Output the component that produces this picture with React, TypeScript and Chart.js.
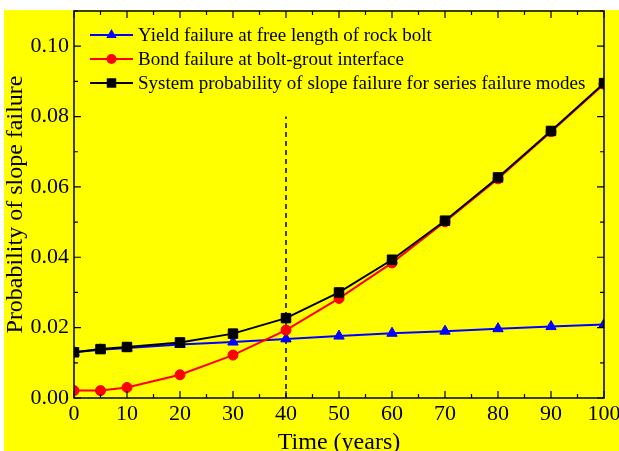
import React, { useEffect, useRef } from "react";
import { Chart, registerables } from "chart.js";

Chart.register(...registerables);

// Service time in years
const years = [0, 5, 10, 20, 30, 40, 50, 60, 70, 80, 90, 100];

// Failure probabilities per mode
const yieldFailure = [0.013, 0.0137, 0.0142, 0.0152, 0.0159, 0.0168, 0.0176, 0.0184, 0.019, 0.0197, 0.0203, 0.0209];
const bondFailure = [0.0021, 0.0021, 0.003, 0.0066, 0.0122, 0.0193, 0.0283, 0.0384, 0.0501, 0.0623, 0.0757, 0.0892];
const systemFailure = [0.013, 0.0139, 0.0145, 0.0158, 0.0183, 0.0227, 0.03, 0.0393, 0.0504, 0.0627, 0.0759, 0.0895];

// Reference marker (dashed vertical line)
const markerYear = 40;
const markerTop = 0.08;

const seriesNames = [
  "Yield failure at free length of rock bolt",
  "Bond failure at bolt-grout interface",
  "System probability of slope failure for series failure modes",
];

const xMajorTicks = [0, 10, 20, 30, 40, 50, 60, 70, 80, 90, 100];
const xMinorTicks = [5, 15, 25, 35, 45, 55, 65, 75, 85, 95];
const yMajorTicks = [0, 0.02, 0.04, 0.06, 0.08, 0.1];
const yMinorTicks = [0.01, 0.03, 0.05, 0.07, 0.09, 0.11];

const FONT = "'Liberation Serif', 'Times New Roman', serif";

const toPoints = (vals: number[]) => years.map((x, i) => ({ x, y: vals[i] }));

function drawMarker(ctx: CanvasRenderingContext2D, style: string, x: number, y: number, r: number) {
  ctx.beginPath();
  if (style === "triangle") {
    ctx.moveTo(x, y - r);
    ctx.lineTo(x + r * 0.866, y + r * 0.5);
    ctx.lineTo(x - r * 0.866, y + r * 0.5);
    ctx.closePath();
  } else if (style === "rect") {
    const s = r * Math.SQRT1_2;
    ctx.rect(x - s, y - s, 2 * s, 2 * s);
  } else {
    ctx.arc(x, y, r, 0, Math.PI * 2);
  }
  ctx.fill();
}

const framePlugin = {
  id: "frame",
  beforeDraw(chart: any) {
    const { ctx, width, height } = chart;
    ctx.save();
    ctx.fillStyle = "#ffffff";
    ctx.fillRect(0, 0, width, height);
    ctx.fillStyle = "#ffff00";
    ctx.fillRect(4, 10, width - 4, height - 10);
    ctx.restore();
  },
  afterDatasetsDraw(chart: any) {
    const { ctx, chartArea: a, scales } = chart;
    const xs = scales.x;
    const ys = scales.y;
    ctx.save();
    ctx.strokeStyle = "#000";
    ctx.lineWidth = 1.5;
    ctx.strokeRect(a.left, a.top, a.right - a.left, a.bottom - a.top);
    ctx.lineWidth = 1.2;
    const tickX = (v: number, len: number) => {
      const px = xs.getPixelForValue(v);
      ctx.beginPath();
      ctx.moveTo(px, a.bottom);
      ctx.lineTo(px, a.bottom - len);
      ctx.moveTo(px, a.top);
      ctx.lineTo(px, a.top + len);
      ctx.stroke();
    };
    const tickY = (v: number, len: number) => {
      const py = ys.getPixelForValue(v);
      ctx.beginPath();
      ctx.moveTo(a.left, py);
      ctx.lineTo(a.left + len, py);
      ctx.moveTo(a.right, py);
      ctx.lineTo(a.right - len, py);
      ctx.stroke();
    };
    xMajorTicks.forEach((v) => tickX(v, 7));
    xMinorTicks.forEach((v) => tickX(v, 4));
    yMajorTicks.forEach((v) => tickY(v, 7));
    yMinorTicks.forEach((v) => tickY(v, 4));

    // Legend inside the plot area
    const colors = ["#0000ff", "#ff0000", "#000000"];
    const styles = ["triangle", "circle", "rect"];
    const radii = [6, 5, 6.7];
    ctx.font = `19px ${FONT}`;
    ctx.textBaseline = "middle";
    ctx.textAlign = "left";
    seriesNames.forEach((name, i) => {
      const y = a.top + 24 + i * 24;
      const x0 = a.left + 16;
      const x1 = a.left + 59;
      ctx.strokeStyle = colors[i];
      ctx.fillStyle = colors[i];
      ctx.lineWidth = 2;
      ctx.beginPath();
      ctx.moveTo(x0, y);
      ctx.lineTo(x1, y);
      ctx.stroke();
      drawMarker(ctx, styles[i], (x0 + x1) / 2, y, radii[i]);
      ctx.fillStyle = "#000";
      ctx.fillText(name, x1 + 5, y + 1);
    });
    ctx.restore();
  },
};

export default function App() {
  const canvasRef = useRef<HTMLCanvasElement | null>(null);

  useEffect(() => {
    if (!canvasRef.current) return;
    const chart = new Chart(canvasRef.current, {
      type: "line",
      data: {
        datasets: [
          {
            label: seriesNames[0],
            data: toPoints(yieldFailure),
            borderColor: "#0000ff",
            backgroundColor: "#0000ff",
            borderWidth: 2,
            pointStyle: "triangle",
            pointRadius: 6,
            pointBorderWidth: 1,
            order: 3,
          },
          {
            label: seriesNames[1],
            data: toPoints(bondFailure),
            borderColor: "#ff0000",
            backgroundColor: "#ff0000",
            borderWidth: 2,
            pointStyle: "circle",
            pointRadius: 5,
            pointBorderWidth: 1,
            order: 2,
          },
          {
            label: seriesNames[2],
            data: toPoints(systemFailure),
            borderColor: "#000000",
            backgroundColor: "#000000",
            borderWidth: 2,
            pointStyle: "rect",
            pointRadius: 6.7,
            pointBorderWidth: 1,
            order: 1,
          },
          {
            label: "marker",
            data: [
              { x: markerYear, y: 0 },
              { x: markerYear, y: markerTop },
            ],
            borderColor: "#000000",
            borderWidth: 1.5,
            borderDash: [5, 4],
            pointRadius: 0,
            order: 4,
          },
        ],
      },
      options: {
        responsive: false,
        animation: false,
        layout: { padding: { top: 11, right: 15, left: 0, bottom: 0 } },
        plugins: {
          legend: { display: false },
          tooltip: { enabled: false },
        },
        elements: { line: { tension: 0 } },
        scales: {
          x: {
            type: "linear",
            min: 0,
            max: 100,
            grid: { display: false, drawTicks: false, tickLength: 0 },
            border: { display: false },
            ticks: {
              stepSize: 10,
              padding: 3,
              color: "#000",
              font: { family: FONT, size: 22 },
              maxRotation: 0,
              callback: (v: any) => String(v),
            },
            title: {
              display: true,
              text: "Time (years)",
              color: "#000",
              font: { family: FONT, size: 24 },
              padding: { top: 0, bottom: -6 },
            },
            afterFit: (s: any) => {
              s.height = 53;
              s.paddingLeft = 0;
              s.paddingRight = 0;
            },
          },
          y: {
            type: "linear",
            min: 0,
            max: 0.11,
            grid: { display: false, drawTicks: false, tickLength: 0 },
            border: { display: false },
            ticks: {
              stepSize: 0.02,
              includeBounds: false,
              padding: 5,
              color: "#000",
              font: { family: FONT, size: 22 },
              callback: (v: any) => Number(v).toFixed(2),
            },
            title: {
              display: true,
              text: "Probability of slope failure",
              color: "#000",
              font: { family: FONT, size: 24 },
              padding: { top: 1, bottom: 0 },
            },
            afterFit: (s: any) => {
              s.width = 74;
              s.paddingTop = 0;
              s.paddingBottom = 0;
            },
          },
        },
      },
      plugins: [framePlugin],
    });
    return () => chart.destroy();
  }, []);

  return (
    <div style={{ position: "fixed", left: 0, top: 0, width: 619, height: 451 }}>
      <canvas ref={canvasRef} width={619} height={451} />
    </div>
  );
}
